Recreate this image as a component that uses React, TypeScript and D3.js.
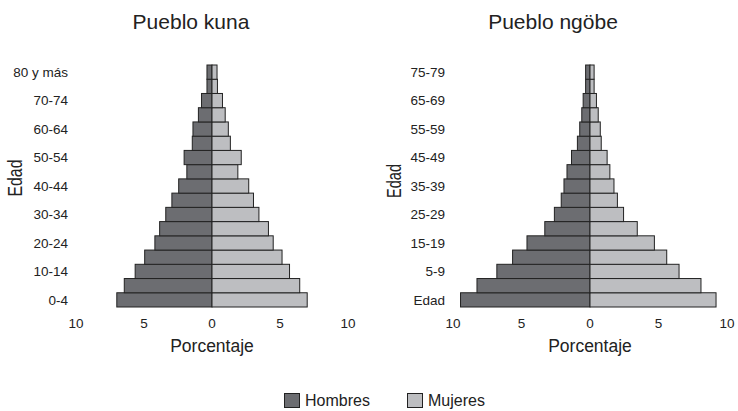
import React from "react";
import * as d3 from "d3";

const kunaAges = ["0-4","5-9","10-14","15-19","20-24","25-29","30-34","35-39","40-44","45-49","50-54","55-59","60-64","65-69","70-74","75-79","80 y más"];
const kunaMen = [7.0, 6.45, 5.65, 4.95, 4.2, 3.85, 3.4, 2.95, 2.45, 1.85, 2.05, 1.45, 1.4, 1.0, 0.77, 0.37, 0.37];
const kunaWomen = [7.0, 6.45, 5.7, 5.15, 4.5, 4.15, 3.45, 3.05, 2.7, 1.9, 2.15, 1.35, 1.2, 0.97, 0.77, 0.4, 0.37];

const ngobeAges = ["Edad","0-4","5-9","10-14","15-19","20-24","25-29","30-34","35-39","40-44","45-49","50-54","55-59","60-64","65-69","70-74","75-79"];
const ngobeMen = [9.45, 8.25, 6.8, 5.65, 4.6, 3.3, 2.6, 2.1, 1.9, 1.68, 1.35, 0.92, 0.75, 0.6, 0.5, 0.32, 0.32];
const ngobeWomen = [9.2, 8.1, 6.5, 5.6, 4.7, 3.45, 2.45, 2.0, 1.75, 1.45, 1.25, 0.82, 0.75, 0.6, 0.47, 0.3, 0.3];

const xTicks = [-10, -5, 0, 5, 10];
const legendLabels = ["Hombres", "Mujeres"];

const MEN = "#6c6d71";
const WOMEN = "#bdbec1";
const STROKE = "#222";
const TEXT = "#222";
const FONT = "'Liberation Sans', Arial, Helvetica, sans-serif";

type PanelProps = {
  title: string;
  ages: string[];
  men: number[];
  women: number[];
  x0: number;
  x1: number;
  titleX: number;
  labelRight: number;
  yLabelX: number;
  yLabelY: number;
  yLabelLen: number;
};

function Panel(p: PanelProps) {
  const x = d3.scaleLinear().domain([-10, 10]).range([p.x0, p.x1]);
  const y = d3.scaleBand<string>().domain([...p.ages].reverse()).range([65, 307]).padding(0);
  const bw = y.bandwidth();
  return (
    <g>
      <text x={p.titleX} y={29} textAnchor="middle" fontSize={21} fill={TEXT}>{p.title}</text>
      {p.ages.map((a, i) => (
        <g key={a}>
          <rect x={x(-p.men[i])} y={y(a)} width={x(0) - x(-p.men[i])} height={bw} fill={MEN} stroke={STROKE} strokeWidth={1} />
          <rect x={x(0)} y={y(a)} width={x(p.women[i]) - x(0)} height={bw} fill={WOMEN} stroke={STROKE} strokeWidth={1} />
        </g>
      ))}
      {p.ages.map((a, i) => i % 2 === 0 ? (
        <text key={"l" + a} x={p.labelRight} y={(y(a) as number) + bw / 2 + 4.8} textAnchor="end" fontSize={13.5} fill={TEXT}>{a}</text>
      ) : null)}
      {xTicks.map(t => (
        <text key={"t" + t} x={x(t)} y={328} textAnchor="middle" fontSize={13.5} fill={TEXT}>{Math.abs(t)}</text>
      ))}
      <text x={x(0)} y={352} textAnchor="middle" fontSize={17.5} fill={TEXT}>Porcentaje</text>
      <text transform={`translate(${p.yLabelX},${p.yLabelY}) rotate(-90)`} textAnchor="middle" fontSize={20} fill={TEXT}
        textLength={p.yLabelLen} lengthAdjust="spacingAndGlyphs">Edad</text>
    </g>
  );
}

export default function App() {
  const legendX = [284, 407];
  const legendColors = [MEN, WOMEN];
  return (
    <svg width={738} height={411} style={{ position: "absolute", left: 0, top: 0, background: "#fff" }} fontFamily={FONT}>
      <rect width={738} height={411} fill="#fff" />
      <Panel title="Pueblo kuna" ages={kunaAges} men={kunaMen} women={kunaWomen} x0={76} x1={348}
        titleX={191} labelRight={68} yLabelX={22} yLabelY={178} yLabelLen={37} />
      <Panel title="Pueblo ngöbe" ages={ngobeAges} men={ngobeMen} women={ngobeWomen} x0={453} x1={727}
        titleX={553} labelRight={445} yLabelX={401} yLabelY={181} yLabelLen={34} />
      {legendLabels.map((l, i) => (
        <g key={l}>
          <rect x={legendX[i] + 0.5} y={393.5} width={15} height={14} fill={legendColors[i]} stroke={STROKE} strokeWidth={1} />
          <text x={legendX[i] + 21} y={406} fontSize={16} fill={TEXT}>{l}</text>
        </g>
      ))}
    </svg>
  );
}
